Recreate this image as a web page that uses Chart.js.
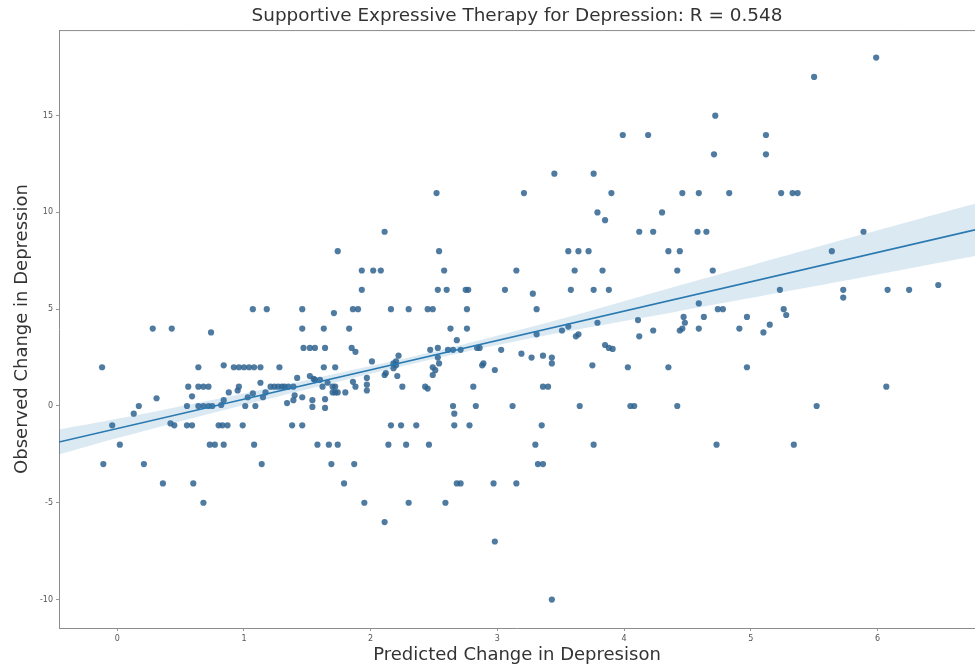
<!DOCTYPE html>
<html>
<head>
<meta charset="utf-8">
<script src="https://cdn.jsdelivr.net/npm/chart.js@4.4.1/dist/chart.umd.min.js"></script>
<style>
  html, body { margin: 0; padding: 0; background: #fff; }
  #wrap { width: 975px; height: 671px; }
</style>
</head>
<body>
<div id="wrap"><canvas id="scatterChart"></canvas></div>
<script>
'use strict';
// ===================== data =====================
const chartTitle = 'Supportive Expressive Therapy for Depression: R = 0.548';
const xTitle = 'Predicted Change in Depresison';
const yTitle = 'Observed Change in Depression';

const xTicks = [0, 1, 2, 3, 4, 5, 6];
const yTicks = [-10, -5, 0, 5, 10, 15];

// predicted (x) and observed (y)
const predicted = [
    5.99, 5.50, 4.72, 3.99, 4.19, 5.12, 4.71, 5.12, 3.45, 3.76,
    2.52, 3.21, 3.90, 4.46, 4.59, 4.83, 5.24, 5.33, 5.37,
    3.79, 4.30, 3.85,
    2.11, 4.12, 4.23, 4.58, 4.65, 5.89,
    1.74, 2.54, 3.56, 3.64, 3.72, 4.35, 4.44, 5.64,
    1.93, 2.02, 2.08, 2.58, 3.15, 3.61, 3.83, 4.42, 4.70,
    1.93, 2.53, 2.60, 2.75, 2.77, 3.06, 3.58, 3.76, 3.88, 5.23, 5.73, 6.08, 6.25, 3.28, 6.48, 5.73,
    1.07, 1.18, 1.46, 1.86, 1.90, 2.16, 2.30, 2.45, 2.49, 2.76, 3.31, 4.74, 4.78, 5.26, 1.71,
    0.28, 0.43, 1.46, 1.63, 1.83, 2.63, 2.76, 0.74,
    3.51, 3.56, 3.62, 3.64, 3.31, 3.79, 4.11, 4.23, 4.12, 4.59, 4.63, 4.97, 4.47, 4.48, 4.46, 4.44, 4.59, 4.91, 5.10, 5.15, 5.28,
    1.47, 1.52, 1.56, 1.64, 1.85, 1.88, 2.68, 2.53, 2.47, 2.61, 2.65, 2.71, 2.84, 2.86, 3.03, 3.85, 3.88, 3.91,
    3.19, 3.27, 3.36, 3.43, 3.43, 2.22, 2.53,
    -0.12, 0.64, 0.84, 0.92, 0.96, 1.00, 1.04, 1.08, 1.13, 1.28, 1.63, 1.72, 4.03, 4.35, 4.97,
    3.75, 2.88, 2.01, 2.18, 2.20, 2.54, 2.89, 2.18, 2.20, 2.49, 2.51, 2.49, 2.12,
    2.98, 1.97, 1.97, 1.97, 2.11, 2.21,
    0.56, 0.64, 0.68, 0.72, 0.96, 1.21, 1.24, 1.27, 1.30, 1.32, 1.35, 1.39, 1.62, 1.66, 1.70, 1.72, 1.88, 1.86,
    1.42, 1.52, 1.55, 1.56, 1.60, 1.74, 2.25, 2.43, 2.45, 2.81, 3.36, 3.40, 6.07, 1.13,
    0.59, 0.31, 0.17, 0.13, 0.55, 0.64, 0.68, 0.72, 0.75, 0.82, 0.84, 0.88, 0.95, 1.01, 1.09,
    1.03, 1.07, 1.15, 1.17, 1.34, 1.39, 1.40, 1.46, 1.54, 1.54, 1.64, 1.64, 1.70, 1.72, 1.80,
    2.65, 2.66, 2.83, 3.12, 3.65, 4.05, 4.08, 4.42, 5.52,
    -0.04, 0.42, 0.45, 0.55, 0.59, 0.80, 0.83, 0.87, 0.99, 1.38, 1.46, 2.16, 2.24, 2.36, 2.66, 2.78, 3.35,
    0.02, 0.73, 0.77, 0.84, 1.08, 1.58, 1.67, 1.74, 2.14, 2.28, 2.46, 3.30, 3.76, 4.73, 5.34,
    -0.11, 0.21, 1.14, 1.69, 1.87, 3.32, 3.36,
    0.36, 0.60, 1.79, 2.68, 2.71, 2.97, 3.15,
    0.68, 1.95, 2.30, 2.59,
    2.11, 2.98, 3.43
];
const observed = [
    18, 17, 15, 14, 14, 14, 13, 13, 12, 12,
    11, 11, 11, 11, 11, 11, 11, 11, 11,
    10, 10, 9.6,
    9, 9, 9, 9, 9, 9,
    8, 8, 8, 8, 8, 8, 8, 8,
    7, 7, 7, 7, 7, 7, 7, 7, 7,
    6, 6, 6, 6, 6, 6, 6, 6, 6, 6, 6, 6, 6, 5.8, 6.25, 5.6,
    5, 5, 5, 5, 5, 5, 5, 5, 5, 5, 5, 5, 5, 5, 4.8,
    4, 4, 4, 4, 4, 4, 4, 3.8,
    3.9, 4.1, 3.6, 3.7, 3.7, 4.3, 4.44, 3.9, 3.6, 5.3, 4.6, 4.6, 4.6, 4.3, 4.0, 3.9, 4.0, 4.0, 3.8, 4.2, 4.7,
    3, 3, 3, 3, 3, 2.8, 3.4, 3.0, 2.9, 2.9, 2.9, 2.9, 3.0, 3.0, 2.9, 3.15, 3.0, 2.95,
    2.7, 2.5, 2.6, 2.5, 2.2, 2.6, 2.5,
    2, 2, 2.1, 2, 2, 2, 2, 2, 2, 2, 2, 2, 2, 2, 2,
    2.1, 2.1, 2.3, 2.2, 2.3, 2.2, 2.2, 1.95, 2.1, 2.0, 1.85, 1.6, 1.7,
    1.86, 1.45, 1.1, 0.8, 1.6, 1.55,
    1, 1, 1, 1, 1, 1, 1, 1, 1, 1, 1, 1, 1, 1.2, 1, 1, 1, 1.25,
    1.45, 1.55, 1.4, 1.35, 1.35, 0.7, 1, 1, 0.9, 1, 1, 1, 1, 1.2,
    0.5, 0.4, 0, -0.4, 0, 0, 0, 0, 0, 0.05, 0.3, 0.7, 0.8, 0, 0,
    0.45, 0.65, 0.45, 0.7, 0.15, 0.3, 0.55, 0.45, 0.3, -0.05, 0.35, -0.1, 0.7, 0.7, 0.7,
    0, -0.4, 0, 0, 0, 0, 0, 0, 0,
    -1, -0.9, -1, -1, -1, -1, -1, -1, -1, -1, -1, -1, -1, -1, -1, -1, -1,
    -2, -2, -2, -2, -2, -2, -2, -2, -2, -2, -2, -2, -2, -2, -2,
    -3, -3, -3, -3, -3, -3, -3,
    -4, -4, -4, -4, -4, -4, -4,
    -5, -5, -5, -5,
    -6, -7, -10
];

// regression line and its confidence band
const fitX = [-0.46, 6.77];
const fitY = [-1.86, 9.10];
const bandX = [-0.46, 0, 1, 2, 2.7, 3.5, 4.4, 5.5, 6.77];
const bandUpper = [-1.21, -0.66, 0.65, 2.07, 3.13, 4.49, 6.16, 8.18, 10.45];
const bandLower = [-2.51, -1.66, 0.05, 1.67, 2.73, 3.79, 4.86, 6.18, 7.75];

// ===================== chart =====================
const pts = predicted.map((x, i) => ({ x, y: observed[i] }));
const zip = (xs, ys) => xs.map((x, i) => ({ x, y: ys[i] }));

const frameTop = {
    id: 'frameTop',
    afterDraw(chart) {
        const { ctx, chartArea } = chart;
        ctx.save();
        ctx.strokeStyle = '#8c8c8c';
        ctx.lineWidth = 1;
        ctx.beginPath();
        ctx.moveTo(chartArea.left, chartArea.top + 0.5);
        ctx.lineTo(chartArea.right, chartArea.top + 0.5);
        ctx.stroke();
        ctx.restore();
    }
};

const tickFont = { family: 'DejaVu Sans', size: 8 };
const titleFont = { family: 'DejaVu Sans', size: 18 };

new Chart(document.getElementById('scatterChart'), {
    type: 'scatter',
    data: {
        datasets: [
            {
                type: 'line',
                data: zip(fitX, fitY),
                borderColor: '#2a79b0',
                borderWidth: 1.6,
                pointRadius: 0,
                fill: false,
                order: 0
            },
            {
                type: 'line',
                data: zip(bandX, bandLower),
                borderWidth: 0,
                pointRadius: 0,
                fill: false,
                tension: 0.3,
                order: 1
            },
            {
                type: 'line',
                data: zip(bandX, bandUpper),
                borderWidth: 0,
                pointRadius: 0,
                backgroundColor: 'rgba(31, 119, 180, 0.16)',
                fill: '-1',
                tension: 0.3,
                order: 1
            },
            {
                data: pts,
                backgroundColor: 'rgba(48, 100, 145, 0.85)',
                borderWidth: 0,
                pointRadius: 3.1,
                order: 2
            }
        ]
    },
    options: {
        responsive: true,
        maintainAspectRatio: false,
        animation: false,
        layout: { autoPadding: false, padding: 0 },
        plugins: {
            legend: { display: false },
            tooltip: { enabled: false },
            title: {
                display: true,
                fullSize: false,
                text: chartTitle,
                color: '#333',
                font: { family: 'DejaVu Sans', size: 18.4, weight: 'normal' },
                padding: { top: 5, bottom: 3 }
            }
        },
        scales: {
            x: {
                type: 'linear',
                min: -0.46,
                max: 6.77,
                afterBuildTicks: s => { s.ticks = xTicks.map(v => ({ value: v })); },
                afterFit: s => { s.height = 43; s.paddingLeft = 0; s.paddingRight = 0; },
                grid: { drawOnChartArea: false, tickLength: 3, color: '#999' },
                border: { color: '#8c8c8c' },
                ticks: { color: '#555', font: tickFont, padding: 3 },
                title: { display: true, text: xTitle, color: '#333', font: titleFont, padding: { top: 0, bottom: 5 } }
            },
            y: {
                type: 'linear',
                min: -11.47,
                max: 19.42,
                afterBuildTicks: s => { s.ticks = yTicks.map(v => ({ value: v })); },
                afterFit: s => { s.width = 59; s.paddingTop = 0; s.paddingBottom = 0; },
                grid: { drawOnChartArea: false, tickLength: 3, color: '#999' },
                border: { color: '#8c8c8c' },
                ticks: { color: '#555', font: tickFont, padding: 3 },
                title: { display: true, text: yTitle, color: '#333', font: titleFont, padding: { top: 12, bottom: 0 } }
            }
        }
    },
    plugins: [frameTop]
});
</script>
</body>
</html>
